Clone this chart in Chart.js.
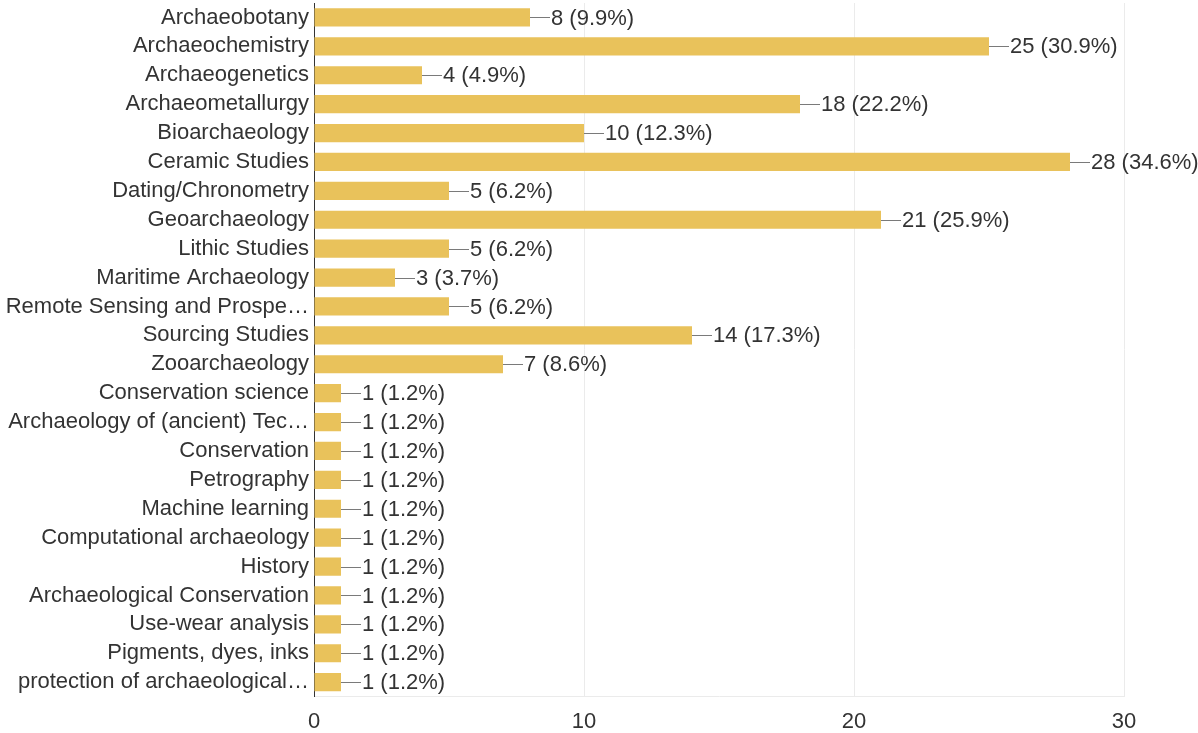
<!DOCTYPE html>
<html>
<head>
<meta charset="utf-8">
<script src="https://cdn.jsdelivr.net/npm/chart.js@4/dist/chart.umd.min.js"></script>
<style>
  html, body { margin: 0; padding: 0; background: #fff; }
  #wrap { width: 1198px; height: 733px; }
</style>
</head>
<body>
<div id="wrap"><canvas id="fieldChart"></canvas></div>
<script>
// Categories (long ones are cut like in the original)
const fields = [
    "Archaeobotany", "Archaeochemistry", "Archaeogenetics", "Archaeometallurgy",
    "Bioarchaeology", "Ceramic Studies", "Dating/Chronometry", "Geoarchaeology",
    "Lithic Studies", "Maritime Archaeology", "Remote Sensing and Prospe\u2026",
    "Sourcing Studies", "Zooarchaeology", "Conservation science",
    "Archaeology of (ancient) Tec\u2026", "Conservation", "Petrography",
    "Machine learning", "Computational archaeology", "History",
    "Archaeological Conservation", "Use-wear analysis", "Pigments, dyes, inks",
    "protection of archaeological\u2026"
];

// Number of responses per field
const counts = [8, 25, 4, 18, 10, 28, 5, 21, 5, 3, 5, 14, 7, 1, 1, 1, 1, 1, 1, 1, 1, 1, 1, 1];

// Share of respondents shown next to each bar
const shares = ["9.9", "30.9", "4.9", "22.2", "12.3", "34.6", "6.2", "25.9", "6.2", "3.7", "6.2",
    "17.3", "8.6", "1.2", "1.2", "1.2", "1.2", "1.2", "1.2", "1.2", "1.2", "1.2", "1.2", "1.2"];

// x axis ticks
const xTicks = [0, 10, 20, 30];

const fontFamily = "'Liberation Sans', Arial, sans-serif";

// Draws the little connector line and value text after each bar
const valueLabels = {
    id: 'valueLabels',
    afterDatasetsDraw(chart) {
        const ctx = chart.ctx;
        const meta = chart.getDatasetMeta(0);
        ctx.save();
        ctx.font = "22px " + fontFamily;
        ctx.textBaseline = 'middle';
        ctx.textAlign = 'left';
        meta.data.forEach((bar, i) => {
            ctx.strokeStyle = '#7a7a7a';
            ctx.lineWidth = 1;
            ctx.beginPath();
            ctx.moveTo(bar.x, Math.round(bar.y) + 0.5);
            ctx.lineTo(bar.x + 20, Math.round(bar.y) + 0.5);
            ctx.stroke();
            ctx.fillStyle = '#333333';
            ctx.fillText(counts[i] + " (" + shares[i] + "%)", bar.x + 21, bar.y + 1);
        });
        ctx.restore();
    }
};

const ctx = document.getElementById('fieldChart').getContext('2d');
const chart = new Chart(ctx, {
    type: 'bar',
    data: {
        labels: fields,
        datasets: [{
            data: counts,
            backgroundColor: '#e9c25b',
            borderWidth: 0,
            barPercentage: 0.63,
            categoryPercentage: 1.0
        }]
    },
    options: {
        indexAxis: 'y',
        responsive: true,
        maintainAspectRatio: false,
        animation: false,
        layout: { padding: { top: 3, right: 74, bottom: -14, left: 0 } },
        plugins: {
            legend: { display: false },
            tooltip: { enabled: false }
        },
        scales: {
            x: {
                min: 0,
                max: 30,
                afterBuildTicks: (scale) => {
                    scale.ticks = xTicks.map(v => ({ value: v }));
                },
                grid: {
                    color: '#ebebeb',
                    drawTicks: false
                },
                border: { display: true, color: '#ebebeb' },
                ticks: {
                    padding: 12,
                    color: '#333333',
                    font: { family: fontFamily, size: 22 }
                }
            },
            y: {
                afterFit: (scale) => {
                    scale.width = 314;
                    scale.paddingTop = 0;
                    scale.paddingBottom = 0;
                },
                grid: { display: false, drawTicks: false },
                border: { display: true, color: '#333333', width: 1 },
                ticks: {
                    padding: 5,
                    autoSkip: false,
                    color: '#333333',
                    font: { family: fontFamily, size: 22, lineHeight: 0.1 }
                }
            }
        }
    },
    plugins: [valueLabels]
});
</script>
</body>
</html>
